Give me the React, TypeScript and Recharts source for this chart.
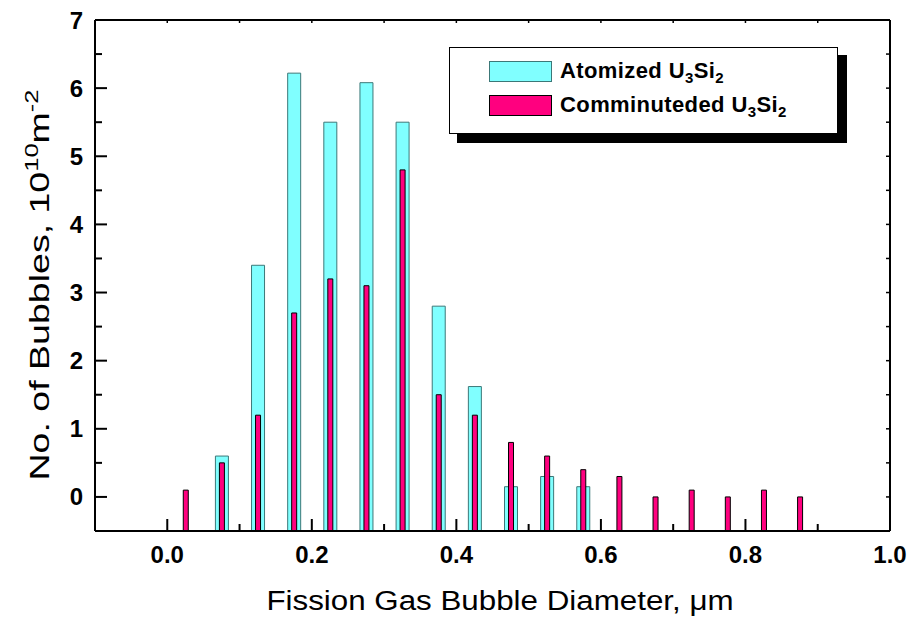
import React from 'react';
import { BarChart, Bar, XAxis, YAxis } from 'recharts';

const diameters = [0.025, 0.075, 0.125, 0.175, 0.225, 0.275, 0.325, 0.375, 0.425, 0.475, 0.525, 0.575, 0.625, 0.675, 0.725, 0.775, 0.825, 0.875];
const atomized = [null, 0.6, 3.4, 6.22, 5.5, 6.08, 5.5, 2.8, 1.62, 0.15, 0.3, 0.15, null, null, null, null, null, null];
const comminuted = [0.1, 0.5, 1.2, 2.7, 3.2, 3.1, 4.8, 1.5, 1.2, 0.8, 0.6, 0.4, 0.3, 0, 0.1, 0, 0.1, 0];
const xTicks = [-0.1, 0, 0.1, 0.2, 0.3, 0.4, 0.5, 0.6, 0.7, 0.8, 0.9, 1.0];
const yTicks = [-0.5, 0, 0.5, 1, 1.5, 2, 2.5, 3, 3.5, 4, 4.5, 5, 5.5, 6, 6.5, 7];

const BASE = -0.5; // bars are drawn up from the bottom of the axis
const FONT = '"Liberation Sans", Arial, sans-serif';
const CYAN = '#80FFFF';
const CYAN_EDGE = '#3c7878';
const PINK = '#FF007F';

const data = diameters.map((x, i) => ({ x, atomized: atomized[i], comminuted: comminuted[i] }));

const BottomTick = ({ x, y, payload }: any) => {
  const major = Math.round(payload.value * 10) % 2 === 0;
  return (
    <g>
      <line x1={x} x2={x} y1={y} y2={y - (major ? 12 : 7)} stroke="#000" strokeWidth={2} />
      {major && (
        <text x={x} y={y + 32} textAnchor="middle" fontFamily={FONT} fontWeight="bold" fontSize={24} fill="#000">
          {payload.value.toFixed(1)}
        </text>
      )}
    </g>
  );
};

const TopTick = ({ x, y }: any) => <line x1={x} x2={x} y1={y} y2={y + 3} stroke="#000" strokeWidth={1.5} />;

const LeftTick = ({ x, y, payload }: any) => {
  const major = Number.isInteger(payload.value);
  return (
    <g>
      <line x1={x} x2={x + (major ? 12 : 7)} y1={y} y2={y} stroke="#000" strokeWidth={2} />
      {major && (
        <text x={x - 12} y={y} textAnchor="end" dominantBaseline="central" fontFamily={FONT} fontWeight="bold" fontSize={24} fill="#000">
          {payload.value}
        </text>
      )}
    </g>
  );
};

const RightTick = ({ x, y }: any) => <line x1={x} x2={x - 4} y1={y} y2={y} stroke="#000" strokeWidth={1.5} />;

const legendItems = [
  { label: 'Atomized', fill: CYAN, stroke: CYAN_EDGE, top: 61 },
  { label: 'Comminuteded', fill: PINK, stroke: '#000', top: 95 },
];

const axisLine = { stroke: '#000', strokeWidth: 2 };

export default function App() {
  return (
    <div style={{ position: 'absolute', left: 0, top: 0, width: 913, height: 625, background: '#fff', fontFamily: FONT }}>
      <BarChart width={913} height={625} data={data} margin={{ top: 19, right: 22, bottom: 93, left: 94 }}>
        <Bar
          dataKey={(d: any) => [BASE, d.atomized ?? BASE]}
          xAxisId="bottom"
          barSize={13}
          fill={CYAN}
          stroke={CYAN_EDGE}
          strokeWidth={1}
          isAnimationActive={false}
        />
        <Bar
          dataKey={(d: any) => [BASE, d.comminuted]}
          xAxisId="top"
          barSize={5}
          fill={PINK}
          stroke="#000"
          strokeWidth={1}
          isAnimationActive={false}
        />
        <XAxis xAxisId="bottom" dataKey="x" type="number" domain={[-0.1, 1.0]} allowDataOverflow ticks={xTicks} interval={0}
          height={1} tickSize={0} tickMargin={0} tickLine={false} axisLine={axisLine} tick={<BottomTick />} />
        <XAxis xAxisId="top" orientation="top" dataKey="x" type="number" domain={[-0.1, 1.0]} allowDataOverflow ticks={xTicks} interval={0}
          height={1} tickSize={0} tickMargin={0} tickLine={false} axisLine={axisLine} tick={<TopTick />} />
        <YAxis type="number" domain={[-0.5, 7]} allowDataOverflow ticks={yTicks} interval={0}
          width={1} tickSize={0} tickMargin={0} tickLine={false} axisLine={axisLine} tick={<LeftTick />} />
        <YAxis yAxisId="right" orientation="right" type="number" domain={[-0.5, 7]} allowDataOverflow ticks={yTicks} interval={0}
          width={1} tickSize={0} tickMargin={0} tickLine={false} axisLine={axisLine} tick={<RightTick />} />
      </BarChart>

      {/* legend box with drop shadow */}
      <div style={{ position: 'absolute', left: 457, top: 55, width: 390, height: 88, background: '#000' }} />
      <div style={{ position: 'absolute', left: 449, top: 47, width: 389, height: 87, background: '#fff', border: '1.5px solid #000', boxSizing: 'border-box' }} />
      {legendItems.map((it) => (
        <React.Fragment key={it.label}>
          <div style={{ position: 'absolute', left: 489, top: it.top, width: 63, height: 21, background: it.fill, border: `1.5px solid ${it.stroke}`, boxSizing: 'border-box' }} />
          <div style={{ position: 'absolute', left: 560, top: it.top - 2, height: 24, lineHeight: '24px', fontSize: 22, fontWeight: 'bold', letterSpacing: 0.4, whiteSpace: 'nowrap', color: '#000' }}>
            {it.label} U<sub style={{ fontSize: 15 }}>3</sub>Si<sub style={{ fontSize: 15 }}>2</sub>
          </div>
        </React.Fragment>
      ))}

      {/* axis titles */}
      <div style={{ position: 'absolute', left: 500, top: 588, transform: 'translateX(-50%) scaleX(1.16)', fontSize: 27, lineHeight: 1, whiteSpace: 'nowrap', color: '#000' }}>
        Fission Gas Bubble Diameter, μm
      </div>
      <div style={{ position: 'absolute', left: 38, top: 285, transform: 'translate(-50%, -50%) rotate(-90deg) scaleX(1.34)', fontSize: 28, lineHeight: 1, whiteSpace: 'nowrap', color: '#000' }}>
        No. of Bubbles, 10<sup style={{ fontSize: 19 }}>10</sup>m<sup style={{ fontSize: 19 }}>-2</sup>
      </div>
    </div>
  );
}
